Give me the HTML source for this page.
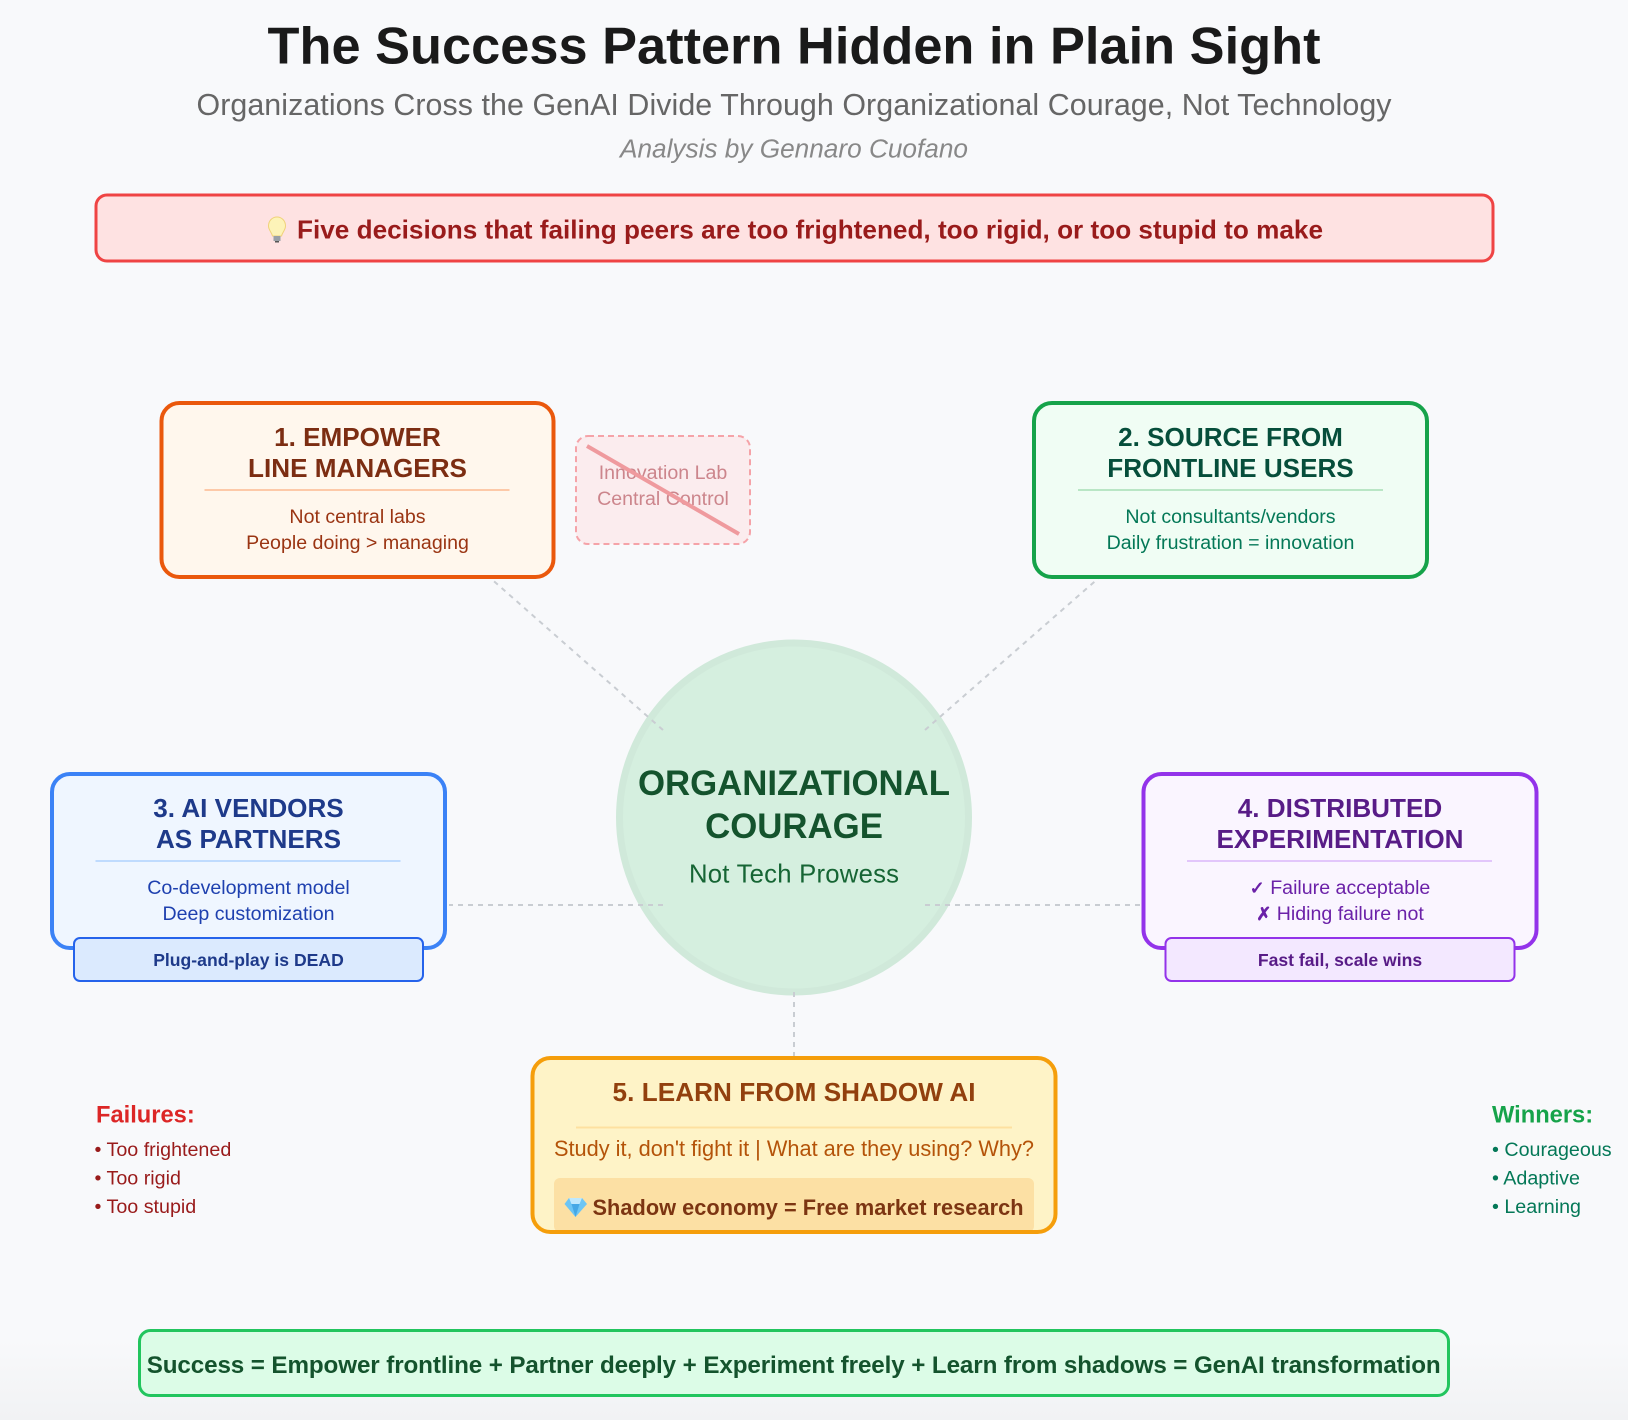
<!DOCTYPE html>
<html lang="en"><head><meta charset="utf-8"><title>The Success Pattern Hidden in Plain Sight</title>
<style>
html,body{margin:0;padding:0;background:#f8f9fb;width:1628px;height:1420px;overflow:hidden}
svg{display:block}
text{font-family:"Liberation Sans",Arial,sans-serif;text-anchor:middle}
.t{font-weight:700;font-size:26.1px}
.b{font-size:19.6px}
.tag{font-weight:700;font-size:17.6px}
.s{font-size:19.7px;text-anchor:start}
.h{font-size:23.7px;font-weight:700;text-anchor:start}
.d{stroke:#c9cdd2;stroke-width:2;stroke-dasharray:5 5;fill:none}
</style></head><body>
<svg width="1628" height="1420" viewBox="0 0 1628 1420" xmlns="http://www.w3.org/2000/svg">
<defs><linearGradient id="bg" x1="0" y1="0" x2="0" y2="1"><stop offset="0" stop-color="#f8f9fb"/><stop offset="1" stop-color="#f1f2f4"/></linearGradient></defs>
<rect width="1628" height="1420" fill="#f8f9fb"/>
<rect y="1340" width="1628" height="80" fill="url(#bg)"/>

<text x="794" y="63.5" font-size="52.3" font-weight="700" fill="#1a1a1a" textLength="1053">The Success Pattern Hidden in Plain Sight</text>
<text x="794" y="115" font-size="30.4" fill="#666666" textLength="1195">Organizations Cross the GenAI Divide Through Organizational Courage, Not Technology</text>
<text x="794" y="157.5" font-size="26.2" font-style="italic" fill="#888888" textLength="348">Analysis by Gennaro Cuofano</text>

<rect x="96" y="195" width="1397" height="66" rx="11" fill="#fee2e2" stroke="#ef4444" stroke-width="3"/>
<g>
<path d="M277 217c-5 0-8.500 4-8.500 9 0 4 3 6 4 10h9c1-4 4-6 4-10 0-5-3.500-9-8.500-9z" fill="#fdf3b8" stroke="#f0d27a" stroke-width="1"/>
<rect x="273.500" y="236" width="7" height="5" fill="#9aa0a6"/><rect x="275" y="241" width="4" height="1.500" fill="#555"/>
</g>
<text x="810" y="238.3" font-size="26.15" font-weight="700" fill="#991b1b" textLength="1026">Five decisions that failing peers are too frightened, too rigid, or too stupid to make</text>

<!-- centre -->
<circle cx="794" cy="817.500" r="174.500" fill="#d5efdf" stroke="#d0e9da" stroke-width="7"/>
<!-- connectors -->
<line class="d" x2="488" y2="576" x1="663" y1="730"/>
<line class="d" x2="1101" y2="576" x1="925" y1="730"/>
<line class="d" x2="449" y2="905" x1="663" y1="905"/>
<line class="d" x2="1141" y2="905" x1="925" y1="905"/>
<line class="d" x1="794" y1="992" x2="794" y2="1056"/>
<text x="794" y="795" font-size="34.8" font-weight="700" fill="#14532d" textLength="312">ORGANIZATIONAL</text>
<text x="794" y="838" font-size="34.8" font-weight="700" fill="#14532d">COURAGE</text>
<text x="794" y="882.500" font-size="25.7" fill="#166534" textLength="210">Not Tech Prowess</text>

<!-- box 1 -->
<rect x="161.500" y="403" width="392" height="174" rx="18" fill="#fff7ed" stroke="#ea580c" stroke-width="4"/>
<text class="t" x="357.500" y="446" fill="#7c2d12">1. EMPOWER</text>
<text class="t" x="357.500" y="477" fill="#7c2d12">LINE MANAGERS</text>
<rect x="204.500" y="489" width="305" height="2" fill="#fdc9a8"/>
<text class="b" x="357.500" y="523" fill="#9a3412">Not central labs</text>
<text class="b" x="357.500" y="549" fill="#9a3412">People doing &gt; managing</text>

<!-- crossed box -->
<rect x="576" y="436" width="174" height="108" rx="12" fill="#fbecee" stroke="#f5a3a8" stroke-width="2" stroke-dasharray="6 4"/>
<text x="663" y="479" font-size="19.6" fill="#cc858c">Innovation Lab</text>
<text x="663" y="505" font-size="19.6" fill="#cc858c">Central Control</text>
<line x1="587" y1="446" x2="739" y2="534" stroke="#ef9a9e" stroke-width="4"/>

<!-- box 2 -->
<rect x="1034" y="403" width="393" height="174" rx="18" fill="#f0fdf4" stroke="#16a34a" stroke-width="4"/>
<text class="t" x="1230.500" y="446" fill="#064e3b">2. SOURCE FROM</text>
<text class="t" x="1230.500" y="477" fill="#064e3b">FRONTLINE USERS</text>
<rect x="1078" y="489" width="305" height="2" fill="#b9e6c5"/>
<text class="b" x="1230.500" y="523" fill="#047857">Not consultants/vendors</text>
<text class="b" x="1230.500" y="549" fill="#047857">Daily frustration = innovation</text>

<!-- box 3 -->
<rect x="52" y="774" width="393" height="174" rx="18" fill="#eff6ff" stroke="#3b82f6" stroke-width="4"/>
<text class="t" x="248.500" y="817" fill="#1e3a8a">3. AI VENDORS</text>
<text class="t" x="248.500" y="848" fill="#1e3a8a">AS PARTNERS</text>
<rect x="95.500" y="860" width="305" height="2" fill="#bfdbfe"/>
<text class="b" x="248.500" y="894" fill="#1e40af">Co-development model</text>
<text class="b" x="248.500" y="920" fill="#1e40af">Deep customization</text>
<rect x="74" y="938" width="349" height="43" rx="6" fill="#dbeafe" stroke="#2563eb" stroke-width="2"/>
<text class="tag" x="248.500" y="966" fill="#1e3a8a">Plug-and-play is DEAD</text>

<!-- box 4 -->
<rect x="1143.500" y="774" width="393" height="174" rx="18" fill="#faf5ff" stroke="#9333ea" stroke-width="4"/>
<text class="t" x="1340" y="817" fill="#581c87">4. DISTRIBUTED</text>
<text class="t" x="1340" y="848" fill="#581c87">EXPERIMENTATION</text>
<rect x="1187" y="860" width="305" height="2" fill="#e2c6fb"/>
<text class="b" x="1340" y="894" fill="#6b21a8"><tspan font-family="'DejaVu Sans',sans-serif" font-size="18" stroke="#6b21a8" stroke-width="0.7">✓</tspan> Failure acceptable</text>
<text class="b" x="1340" y="920" fill="#6b21a8"><tspan font-family="'DejaVu Sans',sans-serif" font-size="18" stroke="#6b21a8" stroke-width="0.7">✗</tspan> Hiding failure not</text>
<rect x="1165.500" y="938" width="349" height="43" rx="6" fill="#f3e8ff" stroke="#9333ea" stroke-width="2"/>
<text class="tag" x="1340" y="966" fill="#581c87">Fast fail, scale wins</text>

<!-- box 5 -->
<rect x="532.500" y="1058" width="523" height="174" rx="18" fill="#fef3c7"/>
<rect x="554" y="1178" width="480" height="54" rx="6" fill="#fce0a4"/>
<rect x="532.500" y="1058" width="523" height="174" rx="18" fill="none" stroke="#f59e0b" stroke-width="4"/>
<text class="t" x="794" y="1101" fill="#92400e" textLength="363">5. LEARN FROM SHADOW AI</text>
<rect x="576" y="1126.500" width="436" height="2" fill="#fde0a0"/>
<text x="794" y="1156" font-size="21.75" fill="#b45309" textLength="480">Study it, don't fight it | What are they using? Why?</text>
<g>
<path d="M569 1198h13l5 6-11.500 13L564.500 1204z" fill="#6cc5f5"/>
<path d="M569 1198h13l-2.500 6h-8z" fill="#bfe8fd"/><path d="M571.500 1204h8l-4 13z" fill="#45a8e6"/>
</g>
<text x="808" y="1215" font-size="21.75" font-weight="700" fill="#7c3512" textLength="431">Shadow economy = Free market research</text>

<!-- lists -->
<text class="h" x="96" y="1122.500" fill="#dc2626">Failures:</text>
<text class="s" x="94.500" y="1156" fill="#991b1b">• Too frightened</text>
<text class="s" x="94.500" y="1184.500" fill="#991b1b">• Too rigid</text>
<text class="s" x="94.500" y="1213" fill="#991b1b">• Too stupid</text>
<text class="h" x="1492" y="1122.500" fill="#16a34a">Winners:</text>
<text class="s" x="1492" y="1156" fill="#047857">• Courageous</text>
<text class="s" x="1492" y="1184.500" fill="#047857">• Adaptive</text>
<text class="s" x="1492" y="1213" fill="#047857">• Learning</text>

<!-- bottom -->
<rect x="139.500" y="1330.500" width="1309" height="65" rx="11" fill="#dcfce7" stroke="#22c55e" stroke-width="3"/>
<text x="793.700" y="1373" font-size="24.2" font-weight="700" fill="#14532d" textLength="1294">Success = Empower frontline + Partner deeply + Experiment freely + Learn from shadows = GenAI transformation</text>
</svg>
</body></html>
